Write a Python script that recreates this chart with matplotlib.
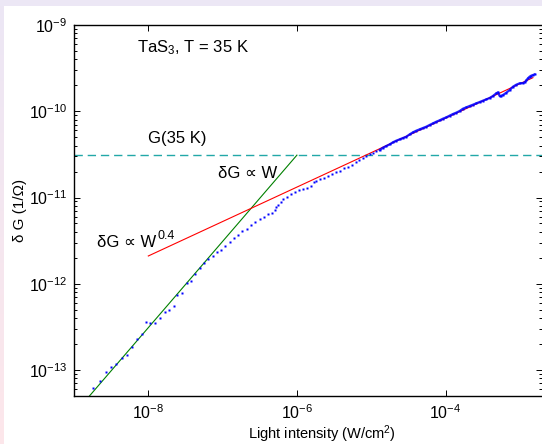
import numpy as np
import matplotlib
matplotlib.use("Agg")
import matplotlib.pyplot as plt
from matplotlib.ticker import LogLocator, LogFormatterMathtext, NullFormatter, FixedLocator

plt.rcParams['font.family'] = ['Liberation Sans', 'DejaVu Sans']
plt.rcParams['mathtext.fontset'] = 'custom'
plt.rcParams['mathtext.rm'] = 'Liberation Sans'
plt.rcParams['mathtext.it'] = 'Liberation Sans:italic'
plt.rcParams['mathtext.bf'] = 'Liberation Sans:bold'

# ---- data (log10 of values) ----
log10_intensity = [
    -8.745, -8.655, -8.575, -8.498, -8.431, -8.359, -8.283, -8.220, -8.153, -8.090,
    -8.027, -7.973, -7.906, -7.843, -7.781, -7.718, -7.659, -7.610, -7.543, -7.485,
    -7.426, -7.368, -7.310, -7.251, -7.193, -7.135, -7.076, -7.018,
    -6.964, -6.901, -6.848, -6.794, -6.735, -6.677, -6.619, -6.560, -6.502, -6.444,
    -6.385, -6.331, -6.291, -6.278, -6.251, -6.219, -6.188, -6.134, -6.080, -6.027,
    -5.973, -5.914, -5.865, -5.816, -5.771, -5.739, -5.694, -5.636, -5.587, -5.533,
    -5.479, -5.425, -5.371, -5.318, -5.264, -5.210, -5.165, -5.111, -5.066, -5.022,
    -4.977, -4.932,
    -4.887, -4.842, -4.797, -4.752, -4.708, -4.663, -4.618, -4.573, -4.528, -4.483,
    -4.438, -4.393, -4.349, -4.304, -4.259, -4.214, -4.169, -4.124, -4.079, -4.035,
    -3.990, -3.945, -3.900, -3.855, -3.810, -3.765, -3.721, -3.676, -3.631, -3.586,
    -3.541, -3.496, -3.451, -3.406, -3.362, -3.317, -3.294, -3.272, -3.249, -3.227,
    -3.182, -3.137, -3.092, -3.048, -3.003, -2.958, -2.935, -2.913, -2.891, -2.868,
    -2.846, -2.823, -2.801,
]
log10_dG = [
    -13.205, -13.124, -13.023, -12.965, -12.934, -12.857, -12.822, -12.733, -12.641, -12.579,
    -12.440, -12.451, -12.459, -12.393, -12.331, -12.308, -12.254, -12.127, -12.111, -11.991,
    -11.964, -11.887, -11.814, -11.763, -11.717, -11.682, -11.636, -11.609,
    -11.558, -11.512, -11.473, -11.431, -11.392, -11.361, -11.323, -11.280, -11.253, -11.226,
    -11.195, -11.176, -11.145, -11.110, -11.083, -11.048, -11.017, -10.990, -10.959, -10.932,
    -10.917, -10.901, -10.890, -10.870, -10.820, -10.809, -10.789, -10.774, -10.751, -10.728,
    -10.704, -10.689, -10.662, -10.642, -10.619, -10.592, -10.565, -10.542, -10.519, -10.496,
    -10.480, -10.465,
    -10.449, -10.422, -10.403, -10.384, -10.360, -10.341, -10.326, -10.310, -10.295, -10.268,
    -10.244, -10.225, -10.210, -10.194, -10.179, -10.159, -10.140, -10.121, -10.105, -10.086,
    -10.071, -10.051, -10.032, -10.016, -9.997, -9.970, -9.955, -9.939, -9.924, -9.908,
    -9.893, -9.877, -9.862, -9.846, -9.823, -9.792, -9.781, -9.823, -9.819, -9.812,
    -9.785, -9.754, -9.715, -9.692, -9.676, -9.673, -9.665, -9.642, -9.618, -9.599,
    -9.587, -9.580, -9.572,
]
dense_start = 70  # index where the measured points merge into a continuous band

# fitted lines (end points)
linear_W = [1.62e-9, 1.0e-6]
linear_G = [5.02e-14, 3.1e-11]
power_W = [1.0e-8, 1.5e-3]
power_G = [2.1e-12, 2.45e-10]
G_35K = 3.1e-11

x_major = [1e-8, 1e-6, 1e-4]
y_major = [1e-13, 1e-12, 1e-11, 1e-10, 1e-9]

W = 10.0 ** np.array(log10_intensity)
G = 10.0 ** np.array(log10_dG)

fig = plt.figure(figsize=(5.42, 4.44), dpi=100, facecolor='white')

# background strips (gradient frame)
bg_left = fig.add_axes([0, 0, 4/542, 1])
grad = np.linspace(0, 1, 256).reshape(-1, 1)
top_c = np.array([0.925, 0.905, 0.960])
bot_c = np.array([0.992, 0.905, 0.920])
img = top_c[None, None, :] * (1 - grad[:, :, None]) + bot_c[None, None, :] * grad[:, :, None]
bg_left.imshow(img, aspect='auto', extent=[0, 1, 0, 1])
bg_left.axis('off')
bg_top = fig.add_axes([0, 1 - 6/444, 1, 6/444])
bg_top.set_facecolor((0.925, 0.905, 0.960))
bg_top.set_xticks([]); bg_top.set_yticks([])
for s in bg_top.spines.values():
    s.set_visible(False)

ax = fig.add_axes([74/542, 48/444, 468.2/542, 371/444])
ax.set_xscale('log')
ax.set_yscale('log')
ax.set_xlim(1e-9, 2e-3)
ax.set_ylim(5e-14, 1e-9)

ax.axhline(G_35K, color='#22a8a8', lw=1.0, dashes=(6, 3.5), zorder=1)
ax.plot(linear_W, linear_G, color='#008000', lw=0.8, zorder=2)
ax.plot(power_W, power_G, color='#ff0000', lw=0.8, zorder=2)
ax.plot(W, G, linestyle='none', marker='s', ms=1.8, mec='none', mfc='#0000ff', zorder=3)
ax.plot(W[dense_start:], G[dense_start:], color='#0000ff', lw=1.6, alpha=0.85, zorder=3)

ax.xaxis.set_major_locator(FixedLocator(x_major))
ax.xaxis.set_minor_locator(FixedLocator([]))
ax.xaxis.set_major_formatter(LogFormatterMathtext())
ax.yaxis.set_major_locator(FixedLocator(y_major))
ax.yaxis.set_minor_locator(LogLocator(base=10, subs=np.arange(2, 10), numticks=20))
ax.yaxis.set_major_formatter(LogFormatterMathtext())
ax.yaxis.set_minor_formatter(NullFormatter())

ax.tick_params(which='both', direction='in', top=True, right=True, labelsize=11.5, color='black', width=0.7)
ax.tick_params(which='major', length=4, pad=5)
ax.tick_params(which='minor', length=2.2)
for s in ['left', 'bottom', 'top']:
    ax.spines[s].set_linewidth(1.0)
ax.spines['right'].set_visible(False)

def px(x, y):
    return (x / 542, 1 - y / 444)

fig.text(*px(322, 434), 'Light intensity (W/cm$^2$)', fontsize=10.5, ha='center', va='center')
fig.text(*px(20, 210), 'δ G (1/Ω)', fontsize=11, ha='center', va='center', rotation=90)

fs = 12
fig.text(*px(137, 48), 'TaS$_3$, T = 35 K', fontsize=fs, va='center', ha='left')
fig.text(*px(148, 138), 'G(35 K)', fontsize=fs, va='center', ha='left')
fig.text(*px(218, 173), 'δG ∝ W', fontsize=fs, va='center', ha='left')
t = fig.text(*px(97, 242), 'δG ∝ W', fontsize=fs, va='center', ha='left')
fig.canvas.draw()
bb = t.get_window_extent()
fig.text(bb.x1 / fig.bbox.width + 1 / 542, px(0, 236)[1], '0.4', fontsize=fs * 0.75,
         va='center', ha='left')

fig.savefig('out.png', dpi=100, facecolor='white')
